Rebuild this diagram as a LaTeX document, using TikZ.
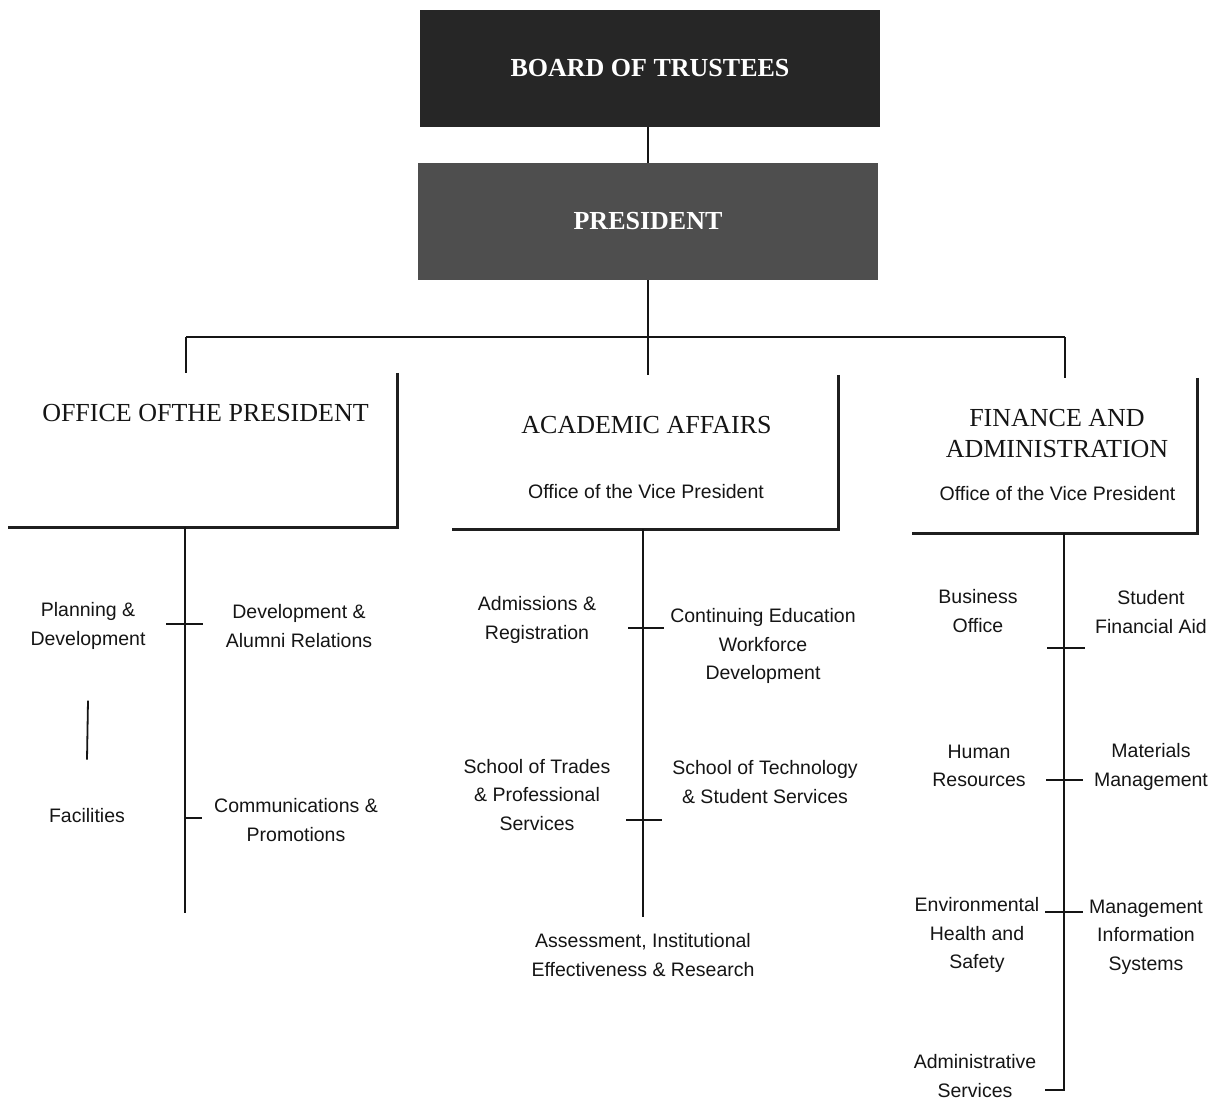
\documentclass[tikz,border=0pt]{standalone}
\usepackage{fontspec}
\setmainfont{Liberation Serif}
\setsansfont{Liberation Sans}
\definecolor{ink}{HTML}{151515}
\definecolor{boardfill}{HTML}{262626}
\definecolor{presfill}{HTML}{4E4E4E}
\begin{document}
\begin{tikzpicture}[x=1pt,y=-1pt,
  topbox/.style={rectangle, fill=#1, text=white, inner sep=0pt,
    minimum width=460pt, minimum height=117pt,
    font=\fontsize{26}{30}\selectfont\bfseries},
  lbl/.style={inner sep=0pt, align=center, text=ink,
    font=\sffamily\fontsize{19.5}{28.5}\selectfont},
  head/.style={inner sep=0pt, align=center, text=ink,
    font=\fontsize{26}{31}\selectfont},
  deptbox/.style={rectangle, inner sep=0pt},
  shadowline/.style={draw=black!88, line width=3pt},
  conn/.style={draw=ink, line width=1.8pt},
  tick/.style={draw=ink, line width=1.3pt}
]
\useasboundingbox[fill=white] (0,0) rectangle (1215,1104);

% top boxes
\node[topbox=boardfill] (bot) at (650,68.5) {BOARD OF TRUSTEES};
\node[topbox=presfill] (pres) at (648,221.5) {PRESIDENT};
\coordinate (spine) at (648,0);
\draw[conn] (spine |- bot.south) -- (spine |- pres.north);

% department boxes
\node[deptbox, minimum width=389pt, minimum height=154pt] (op) at (202.5,450) {};
\node[deptbox, minimum width=386pt, minimum height=154pt] (aa) at (645,452) {};
\node[deptbox, minimum width=285pt, minimum height=155pt] (fa) at (1054.5,455.5) {};
\draw[shadowline] (op.north east) -- (op.south east) -- (op.south west);
\draw[shadowline] (aa.north east) -- (aa.south east) -- (aa.south west);
\draw[shadowline] (fa.north east) -- (fa.south east) -- (fa.south west);

\node[head] (hop) at (205.5,413) {OFFICE OFTHE PRESIDENT};
\node[head] (haa) at (646.5,425) {ACADEMIC AFFAIRS};
\node[lbl] (vaa) at (646,492) {Office of the Vice President};
\node[head] (hfa) at (1057,433.5) {FINANCE AND\\ADMINISTRATION};
\node[lbl] (vfa) at (1057.5,494) {Office of the Vice President};

% bus
\coordinate (busL) at (186,337);
\coordinate (busR) at (1065,337);
\draw[conn] (busL) -- (busR);
\draw[conn] (busL) -- (busL |- op.north);
\draw[conn] (pres.south) -- (pres.south |- aa.north);
\draw[conn] (busR) -- (busR |- fa.north);

% items: office of the president
\node[lbl] (pd) at (88,626) {Planning \&\\Development};
\node[lbl] (dar) at (299,626) {Development \&\\Alumni Relations};
\node[lbl] (fac) at (87,816) {Facilities};
\node[lbl] (cp) at (296,820) {Communications \&\\Promotions};
\coordinate (opend) at (185,913);
\draw[conn] (opend |- op.south) -- (opend);
\draw[tick] (166,624) -- (203,624);
\draw[tick] (185,818) -- (202,818);
\draw[conn] ([yshift=-51pt]pd.south) -- ([yshift=49pt]fac.north);

% items: academic affairs
\node[lbl] (ar) at (537,620) {Admissions \&\\Registration};
\node[lbl] (ce) at (763,646) {Continuing Education\\Workforce\\Development};
\node[lbl] (st) at (537,795) {School of Trades\\\& Professional\\Services};
\node[lbl] (stech) at (765,782) {School of Technology\\\& Student Services};
\node[lbl] (aie) at (643,955) {Assessment, Institutional\\Effectiveness \& Research};
\coordinate (aaend) at (643,917);
\draw[conn] (aaend |- aa.south) -- (aaend);
\draw[tick] (628,628) -- (664,628);
\draw[tick] (626,820) -- (662,820);

% items: finance and administration
\node[lbl] (bo) at (978,611) {Business\\Office};
\node[lbl] (sfa) at (1151,612) {Student\\Financial Aid};
\node[lbl] (hr) at (979,766) {Human\\Resources};
\node[lbl] (mm) at (1151,767) {Materials\\Management};
\node[lbl] (ehs) at (977,935) {Environmental\\Health and\\Safety};
\node[lbl] (mis) at (1146,937) {Management\\Information\\Systems};
\node[lbl] (as) at (975,1076) {Administrative\\Services};
\coordinate (faend) at (1064,1090);
\coordinate (hook) at (1045,1090);
\draw[conn] (faend |- fa.south) -- (faend) -- (hook);
\draw[tick] (1047,648) -- (1085,648);
\draw[tick] (1046,780) -- (1083,780);
\draw[tick] (1045,912) -- (1083,912);
\end{tikzpicture}
\end{document}
